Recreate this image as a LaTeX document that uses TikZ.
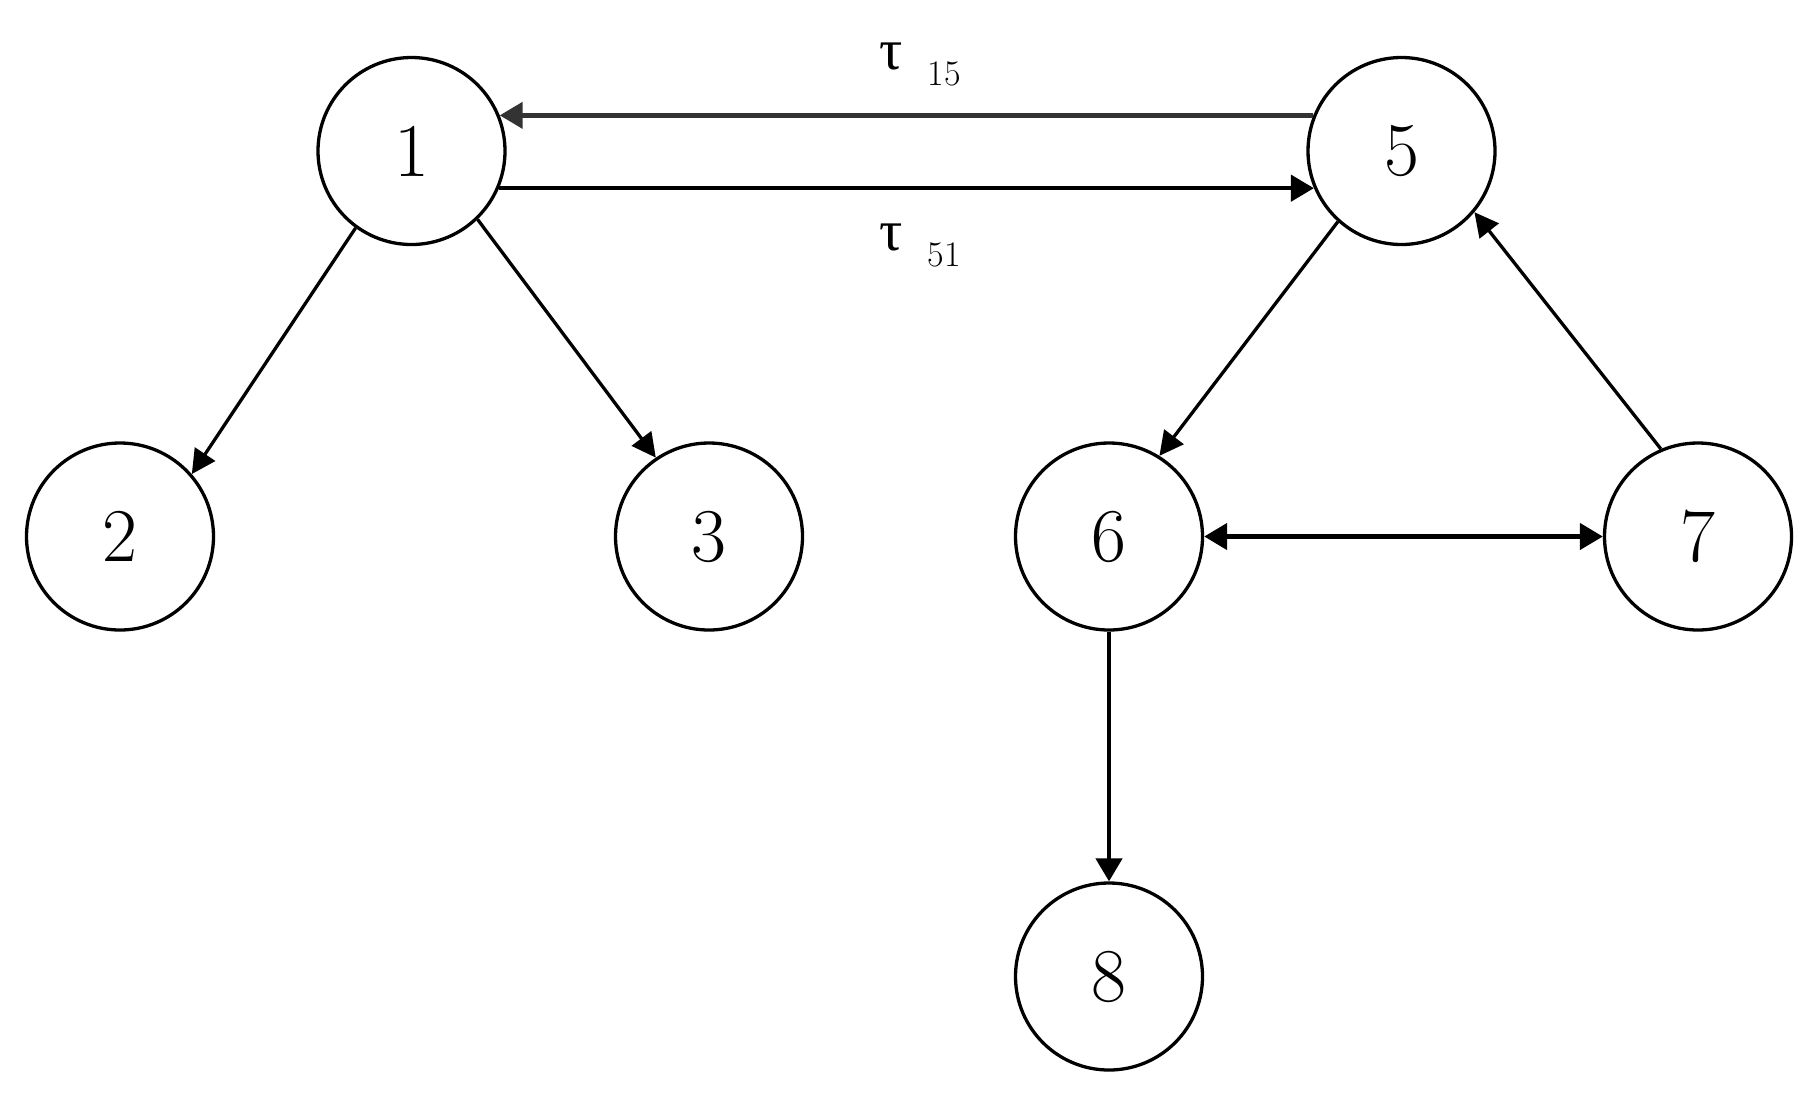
\documentclass[tikz,border=0pt]{standalone}
\usepackage{fontspec}
\newfontfamily\taufont{Liberation Serif}
\usetikzlibrary{arrows.meta}
\begin{document}
\begin{tikzpicture}[x=1pt,y=-1pt,
  vtx/.style={circle,draw,line width=3.3pt,minimum size=187pt,inner sep=0pt,
    font=\fontsize{76}{80}\selectfont},
  edg/.style={line width=3.3pt,-{Triangle[length=24pt,width=24pt]}},
  hedg/.style={line width=4.5pt,-{Triangle[length=23pt,width=26pt]}},
  lbl/.style={inner sep=0pt,anchor=base west}]
\useasboundingbox (0,0) rectangle (1820,1096);
\node[vtx] (n1) at (411.5,151) {1};
\node[vtx] (n5) at (1401.5,151) {5};
\node[vtx] (n2) at (120,536.5) {2};
\node[vtx] (n3) at (709,536.5) {3};
\node[vtx] (n6) at (1109,536.5) {6};
\node[vtx] (n7) at (1698,536.5) {7};
\node[vtx] (n8) at (1109,976.5) {8};
\draw[hedg,draw=black!80] (n5.158) -- (n1.22);
\draw[hedg] (n1.-23) -- (n5.-157);
\draw[edg] (n1.234) -- (n2.41);
\draw[edg] (n1.-46.5) -- (n3.124.5);
\draw[edg] (n5.228) -- (n6.58.5);
\draw[edg] (n7.113.5) -- (n5.-40);
\draw[hedg,{Triangle[length=23pt,width=26pt]}-{Triangle[length=23pt,width=26pt]}] (n6) -- (n7);
\draw[hedg] (n6) -- (n8);
\node[lbl] (t15) at (879,69) {\fontsize{58}{60}\taufont τ\hspace{25pt}\raisebox{-16pt}{\fontsize{36}{36}\rmfamily 15}};
\node[lbl] (t51) at (879,250) {\fontsize{58}{60}\taufont τ\hspace{25pt}\raisebox{-16pt}{\fontsize{36}{36}\rmfamily 51}};
\end{tikzpicture}
\end{document}
